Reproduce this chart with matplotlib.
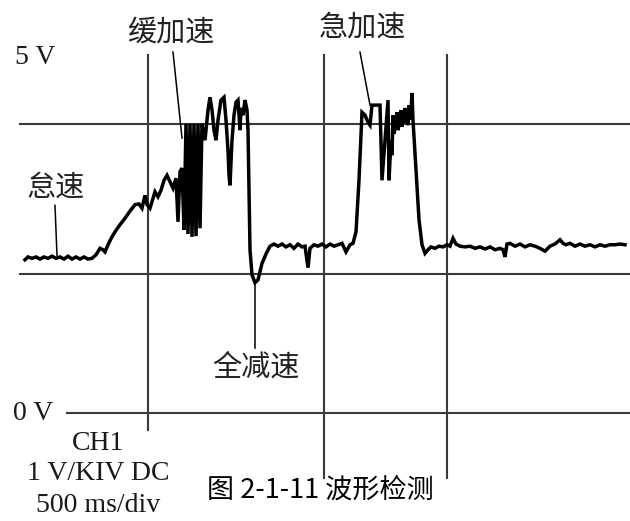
import numpy as np
import matplotlib
matplotlib.use('Agg')
import matplotlib.pyplot as plt

plt.rcParams['font.family'] = ['Noto Sans CJK SC', 'DejaVu Sans']

# 示波器波形 (时间 s, 电压 V)
t_idle = [0.25, 0.28, 0.32, 0.36, 0.40, 0.44, 0.48, 0.52, 0.56, 0.60, 0.64, 0.68,
          0.72, 0.76, 0.80, 0.84, 0.88, 0.92, 0.96]
v_idle = [2.14, 2.18, 2.16, 2.18, 2.15, 2.18, 2.16, 2.19, 2.16, 2.18, 2.15, 2.19,
          2.15, 2.18, 2.15, 2.18, 2.15, 2.16, 2.21]

# 缓加速
t_slow = [1.00, 1.03, 1.05, 1.08, 1.12, 1.15, 1.20, 1.25, 1.30, 1.35, 1.39, 1.42,
          1.45, 1.47, 1.50, 1.53, 1.55, 1.58, 1.61, 1.64, 1.67, 1.70, 1.73, 1.76,
          1.78, 1.80, 1.82, 1.84, 1.86, 1.88, 1.90, 1.92, 1.94, 1.96, 1.98, 2.00,
          2.02, 2.05, 2.08, 2.10, 2.12, 2.14, 2.16, 2.18, 2.21, 2.24, 2.26, 2.28,
          2.29, 2.30, 2.32, 2.34, 2.36, 2.38, 2.40, 2.41, 2.43, 2.45, 2.47, 2.48]
v_slow = [2.30, 2.28, 2.25, 2.35, 2.46, 2.53, 2.63, 2.72, 2.82, 2.91, 2.92, 2.86,
          3.04, 2.91, 2.86, 3.00, 3.09, 3.02, 3.11, 3.25, 3.32, 3.23, 3.14, 3.28,
          2.67, 3.37, 3.42, 2.56, 4.04, 2.50, 4.04, 2.46, 4.04, 2.47, 4.04, 2.58,
          4.04, 3.81, 4.23, 4.41, 4.23, 3.95, 3.81, 4.09, 4.37, 4.41, 4.09, 3.67,
          3.32, 3.18, 3.81, 4.16, 4.34, 4.37, 3.95, 4.26, 4.16, 4.37, 4.23, 3.95]

# 全减速
t_decel = [2.50, 2.52, 2.55, 2.58, 2.62, 2.66, 2.70, 2.74, 2.78, 2.82, 2.86, 2.90,
           2.94, 2.98, 3.02, 3.05, 3.08, 3.10, 3.14, 3.18, 3.22, 3.26, 3.30, 3.34,
           3.38, 3.42, 3.46, 3.50, 3.53]
v_decel = [2.28, 1.93, 1.82, 1.86, 2.09, 2.22, 2.33, 2.36, 2.33, 2.36, 2.32, 2.35,
           2.30, 2.36, 2.32, 2.33, 2.03, 2.30, 2.35, 2.33, 2.36, 2.32, 2.36, 2.33,
           2.35, 2.37, 2.25, 2.35, 2.37]

# 急加速
t_fast = [3.56, 3.59, 3.62, 3.65, 3.68, 3.70, 3.72, 3.76, 3.80, 3.82, 3.85, 3.88,
          3.89, 3.91, 3.92, 3.93, 3.94, 3.95, 3.96, 3.97, 3.98, 3.99, 4.00, 4.01,
          4.02, 4.03, 4.04, 4.05, 4.06, 4.07, 4.08, 4.09, 4.10, 4.11, 4.12, 4.13,
          4.16, 4.19, 4.22]
v_fast = [2.53, 3.25, 4.20, 4.16, 4.06, 4.02, 4.30, 4.30, 4.30, 3.25, 3.81, 4.37,
          3.25, 3.81, 3.60, 4.16, 3.90, 3.98, 4.10, 4.20, 3.95, 4.02, 4.15, 4.23,
          4.00, 4.12, 4.05, 4.26, 4.08, 4.16, 4.02, 4.30, 4.10, 4.23, 4.47, 4.09,
          3.39, 2.70, 2.35]

# 回到稳定
t_end = [4.25, 4.28, 4.31, 4.35, 4.39, 4.43, 4.47, 4.50, 4.53, 4.56, 4.60, 4.65,
         4.70, 4.75, 4.80, 4.85, 4.90, 4.95, 5.00, 5.03, 5.05, 5.07, 5.10, 5.15,
         5.20, 5.25, 5.30, 5.35, 5.40, 5.45, 5.50, 5.55, 5.60, 5.63, 5.66, 5.70,
         5.75, 5.80, 5.85, 5.90, 5.95, 6.00, 6.05, 6.10, 6.15, 6.20, 6.25]
v_end = [2.23, 2.28, 2.32, 2.30, 2.33, 2.32, 2.35, 2.33, 2.44, 2.36, 2.33, 2.32,
         2.33, 2.30, 2.32, 2.29, 2.32, 2.28, 2.30, 2.28, 2.18, 2.36, 2.37, 2.33,
         2.36, 2.32, 2.35, 2.33, 2.30, 2.26, 2.33, 2.36, 2.42, 2.37, 2.35, 2.37,
         2.33, 2.36, 2.33, 2.35, 2.32, 2.35, 2.33, 2.35, 2.35, 2.36, 2.35]

t = np.array(t_idle + t_slow + t_decel + t_fast + t_end)
v = np.array(v_idle + v_slow + v_decel + v_fast + v_end)

# 网格线
h_levels = [4.04, 1.94, 0.0]
h_starts = [0.20, 0.20, 0.67]
v_times = [1.48, 3.24, 4.47]
v_bottoms = [-0.24, -0.91, -0.91]

fig = plt.figure(figsize=(6.3, 5.21), dpi=100)
ax = fig.add_axes([0, 0, 1, 1])
ax.set_xlim(0, 6.3)
ax.set_ylim(-1.508, 5.768)
ax.axis('off')

grid_color = '#3a3a3a'
for lvl, x0 in zip(h_levels, h_starts):
    ax.plot([x0, 6.3], [lvl, lvl], color=grid_color, lw=1.5)
for tx, yb in zip(v_times, v_bottoms):
    ax.plot([tx, tx], [5.0, yb], color=grid_color, lw=1.5)

ax.plot(t, v, color='black', lw=2.5, solid_joinstyle='miter')

# 标注
ann_kw = dict(color='black', lw=1.1)
ax.plot([0.55, 0.57], [2.90, 2.20], **ann_kw)      # 怠速
ax.plot([1.73, 1.82], [5.04, 3.84], **ann_kw)      # 缓加速
ax.plot([3.60, 3.70], [5.04, 4.30], **ann_kw)      # 急加速
ax.plot([2.55, 2.55], [1.82, 0.91], **ann_kw)      # 全减速

cjk = dict(fontsize=21, ha='center', va='center', color='#222222')
ax.text(0.55, 3.15, '怠速', **cjk)
ax.text(1.71, 5.31, '缓加速', **cjk)
ax.text(3.62, 5.38, '急加速', **cjk)
ax.text(2.56, 0.63, '全减速', **cjk)

serif = dict(family='Liberation Serif', ha='center', va='center', color='#1a1a1a')
ax.text(0.35, 4.96, '5 V', fontsize=20, **serif)
ax.text(0.33, 0.0, '0 V', fontsize=20, **serif)
ax.text(0.98, -0.42, 'CH1', fontsize=20, **serif)
ax.text(0.98, -0.84, '1 V/KIV DC', fontsize=20, **serif)
ax.text(0.98, -1.29, '500 ms/div', fontsize=20, **serif)

ax.text(2.07, -1.07, '图 2-1-11 波形检测', fontsize=19.5, ha='left', va='center',
        color='black')

fig.savefig('out.png', dpi=100)
